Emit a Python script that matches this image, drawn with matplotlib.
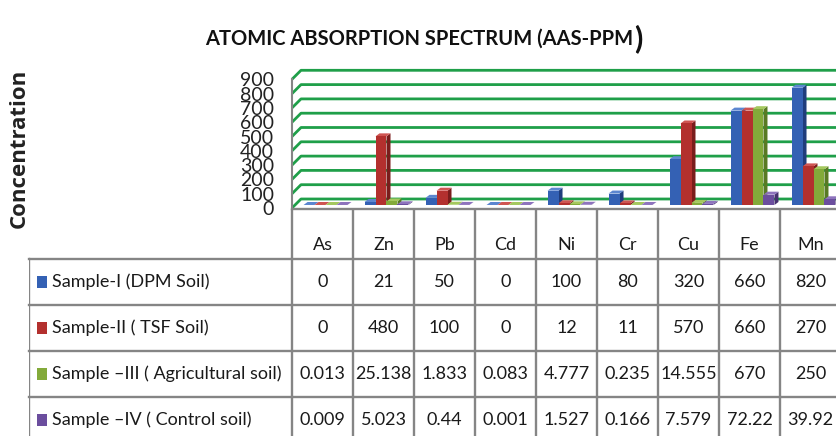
import matplotlib
matplotlib.use("Agg")
import matplotlib.pyplot as plt
import matplotlib.transforms as mtransforms
from matplotlib.patches import Polygon, Rectangle

# AAS readings (ppm) per element for the four soil samples
elements = ["As", "Zn", "Pb", "Cd", "Ni", "Cr", "Cu", "Fe", "Mn"]
sample_names = [
    "Sample-I (DPM Soil)",
    "Sample-II ( TSF Soil)",
    "Sample \u2013III ( Agricultural soil)",
    "Sample \u2013IV ( Control soil)",
]
dpm_soil = [0, 21, 50, 0, 100, 80, 320, 660, 820]
tsf_soil = [0, 480, 100, 0, 12, 11, 570, 660, 270]
agri_soil = [0.013, 25.138, 1.833, 0.083, 4.777, 0.235, 14.555, 670, 250]
control_soil = [0.009, 5.023, 0.44, 0.001, 1.527, 0.166, 7.579, 72.22, 39.92]
y_ticks = [0, 100, 200, 300, 400, 500, 600, 700, 800, 900]

series = [dpm_soil, tsf_soil, agri_soil, control_soil]
front_colors = ["#3461b4", "#b3302e", "#83aa3a", "#6b4e9e"]
side_colors = ["#1f3d7c", "#7a1d1c", "#587a24", "#45306e"]
top_colors = ["#5c86d0", "#cf5552", "#a4c85e", "#8e74bd"]
grid_green = "#1f9f49"
rule_grey = "#858585"
text_font = "Lato"

W, H = 837, 436
fig = plt.figure(figsize=(W / 100, H / 100), dpi=100)

# chart area: one column per element, 61 px wide, floor front edge at y=208 px
col_px = 61
x0_px, floor_px, top_px = 292, 208, 79.3
ax = fig.add_axes([x0_px / W, (H - floor_px) / H,
                   col_px * len(elements) / W, (floor_px - top_px) / H])
ax.set_xlim(-0.5, len(elements) - 0.5)
ax.set_ylim(0, 900)
ax.axis("off")

# pixel sizes in data units
px_x = 1.0 / col_px
px_y = 900.0 / (floor_px - top_px)
wall_depth = 9
bar_dx, bar_dy = 4, 3

# back wall gridlines with the short diagonal running along the left wall
for v in y_ticks:
    ax.plot([-0.5, -0.5 + wall_depth * px_x, len(elements) + 1],
            [v, v + wall_depth * px_y, v + wall_depth * px_y],
            color=grid_green, lw=2.0, solid_capstyle="butt",
            clip_on=False, zorder=1)
    ax.text(-0.5 - 18 * px_x, v - 1.5 * px_y, str(v), ha="right", va="center",
            fontsize=14, family=text_font, color="#222222")
ax.plot([-0.5, -0.5], [0, 900], color=rule_grey, lw=1.5, clip_on=False, zorder=2)

# 3D-looking clustered columns
front_tr = mtransforms.offset_copy(ax.transData, fig=fig, x=3, y=3, units="dots")
bw = 0.18
ddx, ddy = bar_dx * px_x, bar_dy * px_y
for i in range(len(elements)):
    for j, vals in enumerate(series):
        xl = i - 2 * bw + j * bw
        h = vals[i]
        side = Polygon([(xl + bw, 0), (xl + bw + ddx, ddy),
                        (xl + bw + ddx, h + ddy), (xl + bw, h)],
                       closed=True, facecolor=side_colors[j], edgecolor="none",
                       transform=front_tr, clip_on=False, zorder=3)
        top = Polygon([(xl, h), (xl + ddx, h + ddy),
                       (xl + bw + ddx, h + ddy), (xl + bw, h)],
                      closed=True, facecolor=top_colors[j], edgecolor="none",
                      transform=front_tr, clip_on=False, zorder=3)
        ax.add_patch(side)
        ax.add_patch(top)
        ax.bar(xl, h, width=bw, align="edge", color=front_colors[j],
               edgecolor="none", transform=front_tr, clip_on=False, zorder=3)

# data table under the chart
legend_px = 263
row_px = 46
header_px = 50
tax = fig.add_axes([(x0_px - legend_px) / W, 0,
                    (legend_px + col_px * len(elements)) / W, (H - floor_px - 1) / H])
x_left = -0.5 - legend_px / col_px
hh = header_px / row_px
tax.set_xlim(x_left, len(elements) - 0.5)
tax.set_ylim((H - floor_px - 1) / row_px, 0)
tax.axis("off")

tax.plot([-0.5, len(elements) - 0.5], [0, 0], color=rule_grey, lw=1.7, clip_on=False)
for r in range(len(series)):
    tax.plot([x_left, len(elements) - 0.5], [hh + r, hh + r],
             color=rule_grey, lw=1.7, clip_on=False)
for k in range(len(elements) + 1):
    tax.plot([-0.5 + k, -0.5 + k], [0, 6], color=rule_grey, lw=1.7)
tax.plot([x_left, x_left], [hh, 6], color=rule_grey, lw=1.7)

for i, name in enumerate(elements):
    tax.text(i, hh * 0.72, name, ha="center", va="center",
             fontsize=13, family=text_font, color="#1a1a1a")

for r, (label, vals) in enumerate(zip(sample_names, series)):
    yc = hh + r + 0.5
    tax.add_patch(Rectangle((x_left + 8 / col_px, yc - 0.12), 10 / col_px, 0.24,
                            facecolor=front_colors[r], edgecolor="none"))
    tax.text(x_left + 23 / col_px, yc, label, ha="left", va="center",
             fontsize=13, family=text_font, color="#1a1a1a")
    for i, v in enumerate(vals):
        tax.text(i, yc, "{:g}".format(v), ha="center", va="center",
                 fontsize=13, family=text_font, color="#1a1a1a")

# titles
title = fig.text(205 / W, 1 - 38.5 / H, "ATOMIC ABSORPTION SPECTRUM (AAS-PPM",
                 ha="left", va="center", fontsize=14.5,
                 fontweight="bold", family=text_font, color="#111111")
ax.annotate(")", xy=(1, 0.5), xycoords=title, xytext=(0.5, 0),
            textcoords="offset points", ha="left", va="center",
            fontsize=22, family=text_font, fontweight="bold", color="#111111")
fig.text(19 / W, 1 - 148 / H, "Concentration", rotation=90,
         ha="center", va="center", fontsize=16, fontweight="bold",
         family="Open Sans", color="#222222")

fig.savefig("out.png", dpi=100)
